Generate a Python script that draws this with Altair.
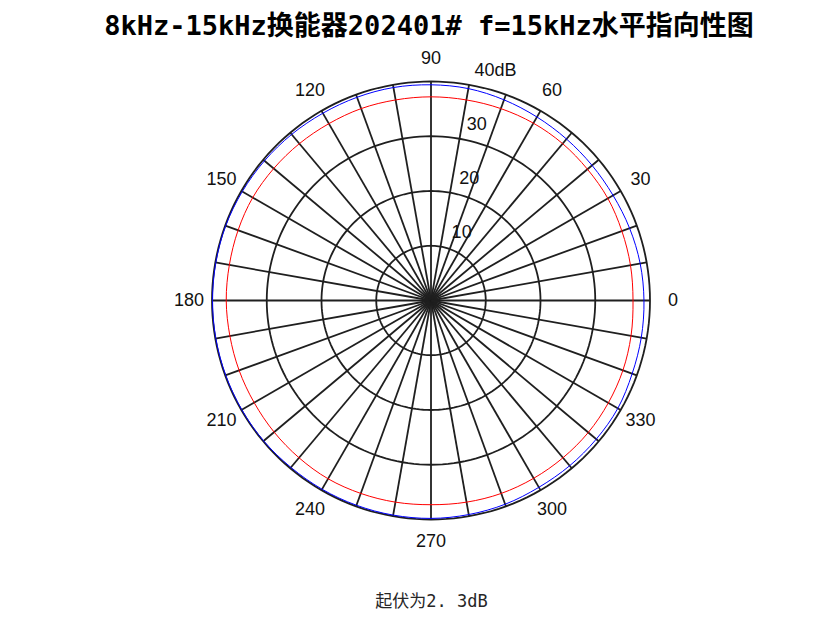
import altair as alt
import pandas as pd

# ---- data (dB vs angle in degrees) ----
angles = list(range(0, 360, 10))
blue_db = [38.9, 38.8, 38.6, 38.4, 38.4, 38.5, 38.7, 39.0, 39.3, 39.4,
           39.5, 39.5, 39.5, 39.6, 39.7, 39.8, 39.9, 39.9, 39.9, 39.9,
           39.9, 39.9, 39.9, 39.8, 39.8, 39.8, 39.8, 39.8, 39.7, 39.6,
           39.4, 39.4, 39.4, 39.4, 39.1, 39.0]
red_db = [36.9, 37.0, 37.1, 37.3, 37.3, 37.4, 37.4, 37.3, 37.2, 37.2,
          37.2, 37.3, 37.3, 37.4, 37.5, 37.6, 37.5, 37.4, 37.4, 37.3,
          37.3, 37.3, 37.4, 37.5, 37.6, 37.5, 37.4, 37.3, 37.4, 37.5,
          37.5, 37.5, 37.5, 37.4, 37.3, 37.1]
ring_values = [10, 20, 30, 40]
ring_texts = ["10", "20", "30", "40dB"]
angle_ticks = list(range(0, 360, 30))
spoke_angles = list(range(0, 360, 10))
title_text = "8kHz-15kHz换能器202401# f=15kHz水平指向性图"
footer_text = "起伏为2. 3dB"

# ---- tables ----
curve_rows = []
for name, vals in (("blue", blue_db), ("red", red_db)):
    for a, v in zip(angles, vals):
        curve_rows.append({"series": name, "angle": a, "db": v})
curves = pd.DataFrame(curve_rows)

circle_rows = []
for r in ring_values:
    for a in range(0, 360, 2):
        circle_rows.append({"ring": r, "angle": a})
circles = pd.DataFrame(circle_rows)

spokes = pd.DataFrame({"angle": spoke_angles, "r": [max(ring_values)] * len(spoke_angles)})
tick_labels = pd.DataFrame({"angle": angle_ticks, "label": [str(a) for a in angle_ticks]})
ring_labels = pd.DataFrame({"ring": ring_values, "label": ring_texts})

# ---- layout ----
W, H = 815, 517
CX, CY = 423, 242.5          # centre of the polar plot inside the view (px)
K = 219 / 40                 # px per dB
xscale = alt.Scale(domain=[-CX / K, (W - CX) / K], nice=False, zero=False)
yscale = alt.Scale(domain=[-(H - CY) / K, CY / K], nice=False, zero=False)

xaxis = alt.Axis(title=footer_text, labels=False, ticks=False, domain=False, grid=False,
                 titleFont="DejaVu Sans Mono, Noto Sans CJK SC", titleFontSize=17,
                 titleFontWeight="normal", titleColor="#262626", titlePadding=18,
                 titleX=CX, titleAlign="center")


def X(f):
    return alt.X(f, type="quantitative", scale=xscale, axis=xaxis)


def Y(f):
    return alt.Y(f, type="quantitative", scale=yscale, axis=None)


GRID = "#1f1f1f"

circle_layer = alt.Chart(circles).transform_calculate(
    x="datum.ring * cos(datum.angle * PI / 180)",
    y="datum.ring * sin(datum.angle * PI / 180)",
).mark_line(color=GRID, strokeWidth=1.8, interpolate="linear-closed").encode(
    x=X("x"), y=Y("y"), detail="ring:N", order="angle:Q"
)

spoke_layer = alt.Chart(spokes).transform_calculate(
    x0="0", y0="0",
    xe="datum.r * cos(datum.angle * PI / 180)",
    ye="datum.r * sin(datum.angle * PI / 180)",
).mark_rule(color=GRID, strokeWidth=1.8).encode(
    x=X("x0"), y=Y("y0"), x2="xe:Q", y2="ye:Q"
)

curve_layer = alt.Chart(curves).transform_calculate(
    x="datum.db * cos(datum.angle * PI / 180)",
    y="datum.db * sin(datum.angle * PI / 180)",
).mark_line(strokeWidth=1, interpolate="cardinal-closed").encode(
    x=X("x"), y=Y("y"),
    color=alt.Color("series:N", scale=alt.Scale(domain=["blue", "red"], range=["#0000ff", "#ff0000"]),
                    legend=None),
    order="angle:Q",
)

tick_layer = alt.Chart(tick_labels).transform_calculate(
    x="44.2 * cos(datum.angle * PI / 180)",
    y="44.2 * sin(datum.angle * PI / 180)",
).mark_text(font="Liberation Sans", fontSize=18, color="#111111", align="center", baseline="middle").encode(
    x=X("x"), y=Y("y"), text="label:N"
)

ring_layer = alt.Chart(ring_labels).transform_calculate(
    x="datum.ring * cos(82 * PI / 180)",
    y="datum.ring * sin(82 * PI / 180)",
).mark_text(font="Liberation Sans", fontSize=18, color="#111111", align="left",
            baseline="alphabetic", dx=13, dy=-8).encode(
    x=X("x"), y=Y("y"), text="label:N"
)

chart = alt.layer(circle_layer, spoke_layer, curve_layer, tick_layer, ring_layer).properties(
    width=W, height=H,
    autosize=alt.AutoSizeParams(type="none"),
    padding={"left": 0, "top": 50, "right": 0, "bottom": 48},
    title=alt.TitleParams(text=title_text, font="DejaVu Sans Mono, Noto Sans CJK SC", fontSize=27,
                          fontWeight="bold", color="black", anchor="middle", dx=13.5, offset=9),
).configure_view(stroke=None)

chart.save("out.html", embed_options={"renderer": "svg", "actions": False})
